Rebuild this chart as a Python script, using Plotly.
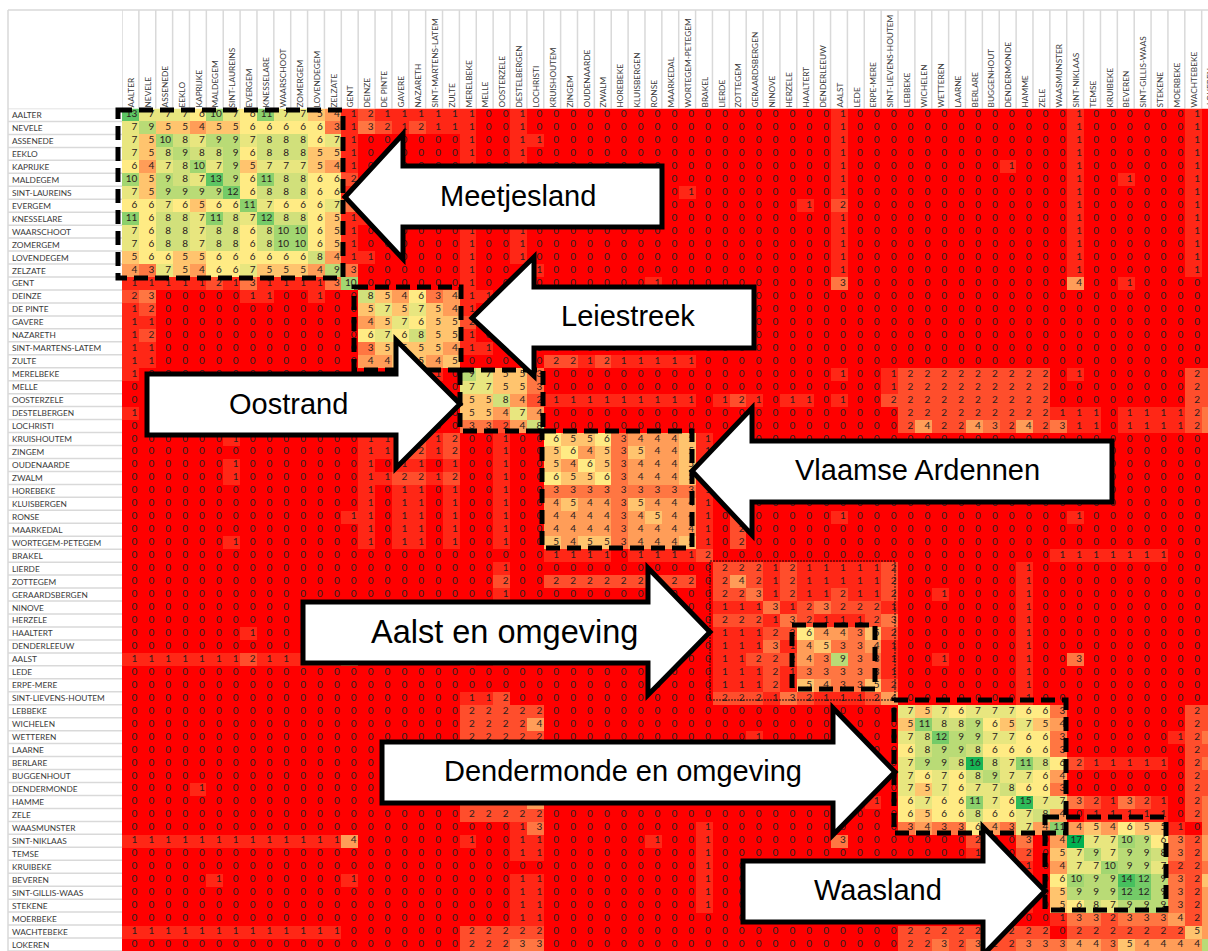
import plotly.graph_objects as go

WIDTH, HEIGHT = 1208, 951

MUNICIPALITIES = [
    "AALTER", "NEVELE", "ASSENEDE", "EEKLO", "KAPRIJKE", "MALDEGEM", "SINT-LAUREINS", "EVERGEM", "KNESSELARE",
    "WAARSCHOOT", "ZOMERGEM", "LOVENDEGEM", "ZELZATE", "GENT", "DEINZE", "DE PINTE", "GAVERE", "NAZARETH",
    "SINT-MARTENS-LATEM", "ZULTE", "MERELBEKE", "MELLE", "OOSTERZELE", "DESTELBERGEN", "LOCHRISTI", "KRUISHOUTEM",
    "ZINGEM", "OUDENAARDE", "ZWALM", "HOREBEKE", "KLUISBERGEN", "RONSE", "MAARKEDAL", "WORTEGEM-PETEGEM", "BRAKEL",
    "LIERDE", "ZOTTEGEM", "GERAARDSBERGEN", "NINOVE", "HERZELE", "HAALTERT", "DENDERLEEUW", "AALST", "LEDE",
    "ERPE-MERE", "SINT-LIEVENS-HOUTEM", "LEBBEKE", "WICHELEN", "WETTEREN", "LAARNE", "BERLARE", "BUGGENHOUT",
    "DENDERMONDE", "HAMME", "ZELE", "WAASMUNSTER", "SINT-NIKLAAS", "TEMSE", "KRUIBEKE", "BEVEREN",
    "SINT-GILLIS-WAAS", "STEKENE", "MOERBEKE", "WACHTEBEKE", "LOKEREN",
]

# one row per municipality: 13 | Gent | 6 | 5 | 9 | Brakel | 11 | 10 | 8 | Lokeren
VALUES = [
 [13,7,7,7,6,10,7,6,11,7,7,5,4, 1, 2,1,1,1,1,1, 1,0,0,1,0, 0,0,0,0,0,0,0,0,0, 0, 0,0,0,0,0,0,0,1,0,0,0, 0,0,0,0,0,0,0,0,0,0, 1,0,0,0,0,0,0,1, 0],
 [7,9,5,5,4,5,5,6,6,6,6,6,3, 1, 3,2,1,2,1,1, 1,0,0,1,0, 0,0,0,0,0,0,0,0,0, 0, 0,0,0,0,0,0,0,1,0,0,0, 0,0,0,0,0,0,0,0,0,0, 1,0,0,0,0,0,0,1, 0],
 [7,5,10,8,7,9,9,7,8,8,8,6,7, 1, 0,0,0,0,0,0, 1,0,0,1,1, 0,0,0,0,0,0,0,0,0, 0, 0,0,0,0,0,0,0,1,0,0,0, 0,0,0,0,0,0,0,0,0,0, 1,0,0,0,0,0,0,1, 0],
 [7,5,8,9,8,8,9,6,8,8,8,5,5, 1, 0,0,0,0,0,0, 1,0,0,1,0, 0,0,0,0,0,0,0,0,0, 0, 0,0,0,0,0,0,0,1,0,0,0, 0,0,0,0,0,0,0,0,0,0, 1,0,0,0,0,0,0,1, 0],
 [6,4,7,8,10,7,9,5,7,7,7,5,4, 1, 0,0,0,0,0,0, 1,0,0,1,0, 0,0,0,0,0,0,0,0,0, 0, 0,0,0,0,0,0,0,1,0,0,0, 0,0,0,0,0,0,1,0,0,0, 1,0,0,0,0,0,0,1, 0],
 [10,5,9,8,7,13,9,6,11,8,8,6,6, 2, 0,0,0,0,0,0, 1,0,0,1,0, 0,0,0,0,0,0,0,0,0, 0, 0,0,0,0,0,0,0,1,0,0,0, 0,0,0,0,0,0,0,0,0,0, 1,0,0,1,0,0,0,1, 0],
 [7,5,9,9,9,9,12,6,8,8,8,6,6, 1, 0,0,0,0,0,0, 1,0,0,1,0, 0,0,0,0,0,0,0,0,1, 0, 0,0,0,0,0,0,0,1,0,0,0, 0,0,0,0,0,0,0,0,0,0, 1,0,0,0,0,0,0,1, 0],
 [6,6,7,6,5,6,6,11,7,6,6,6,7, 3, 1,0,0,0,0,0, 1,0,0,1,0, 0,0,0,0,0,0,0,0,0, 0, 0,0,0,0,0,1,0,2,0,0,0, 0,0,0,0,0,0,0,0,0,0, 1,0,0,0,0,0,0,1, 0],
 [11,6,8,8,7,11,8,7,12,8,8,6,5, 1, 1,0,0,0,0,0, 1,0,0,1,0, 0,0,0,0,0,0,0,0,0, 0, 0,0,0,0,0,0,0,1,0,0,0, 0,0,0,0,0,0,0,0,0,0, 1,0,0,0,0,0,0,1, 0],
 [7,6,8,8,7,8,8,6,8,10,10,6,5, 1, 0,0,0,0,0,0, 1,0,0,1,0, 0,0,0,0,0,0,0,0,0, 0, 0,0,0,0,0,0,0,1,0,0,0, 0,0,0,0,0,0,0,0,0,0, 1,0,0,0,0,0,0,1, 0],
 [7,6,8,8,7,8,8,6,8,10,10,6,5, 1, 0,0,0,0,0,0, 1,0,0,1,0, 0,0,0,0,0,0,0,0,0, 0, 0,0,0,0,0,0,0,1,0,0,0, 0,0,0,0,0,0,0,0,0,0, 1,0,0,0,0,0,0,1, 0],
 [5,6,6,5,5,6,6,6,6,6,6,8,4, 1, 1,0,0,0,0,0, 1,0,0,1,0, 0,0,0,0,0,0,0,0,0, 0, 0,0,0,0,0,0,0,1,0,0,0, 0,0,0,0,0,0,0,0,0,0, 1,0,0,0,0,0,0,1, 0],
 [4,3,7,5,4,6,6,7,5,5,5,4,9, 3, 0,0,0,0,0,0, 1,0,0,0,1, 0,0,0,0,0,0,0,0,0, 0, 0,0,0,0,0,0,0,1,0,0,0, 0,0,0,0,0,0,0,0,0,0, 1,0,0,0,0,0,0,1, 0],
 [1,1,1,1,1,2,1,3,1,1,1,1,3, 10, 0,0,0,0,0,0, 1,0,0,0,0, 0,0,0,0,0,0,1,0,0, 0, 0,0,0,0,0,0,0,3,0,0,0, 0,0,0,0,0,0,0,0,0,0, 4,0,0,1,0,0,0,0, 0],
 [2,3,0,0,0,0,0,1,1,0,0,1,0, 0, 8,5,4,6,3,4, 1,1,0,0,0, 0,0,0,0,0,0,0,0,0, 0, 0,0,0,0,0,0,0,0,0,0,0, 0,0,0,0,0,0,0,0,0,0, 0,0,0,0,0,0,0,0, 0],
 [1,2,0,0,0,0,0,0,0,0,0,0,0, 0, 5,7,5,7,5,4, 1,0,0,0,0, 0,0,0,0,0,0,0,0,0, 0, 0,0,0,0,0,0,0,0,0,0,0, 0,0,0,0,0,0,0,0,0,0, 0,0,0,0,0,0,0,0, 0],
 [1,1,0,0,0,0,0,0,0,0,0,0,0, 0, 4,5,7,6,5,5, 2,0,0,0,0, 0,0,0,0,0,0,0,0,0, 0, 0,0,0,0,0,0,0,0,0,0,0, 0,0,0,0,0,0,0,0,0,0, 0,0,0,0,0,0,0,0, 0],
 [1,2,0,0,0,0,0,0,0,0,0,0,0, 0, 6,7,6,8,5,5, 1,0,0,0,0, 0,0,0,0,0,0,0,0,0, 0, 0,0,0,0,0,0,0,0,0,0,0, 0,0,0,0,0,0,0,0,0,0, 0,0,0,0,0,0,0,0, 0],
 [1,1,0,0,0,0,0,0,0,0,0,0,0, 0, 3,5,5,5,5,4, 1,1,0,0,0, 0,0,0,0,0,0,0,0,0, 0, 0,0,0,0,0,0,0,0,0,0,0, 0,0,0,0,0,0,0,0,0,0, 0,0,0,0,0,0,0,0, 0],
 [1,1,0,0,0,0,0,0,0,0,0,0,0, 0, 4,4,5,5,4,5, 0,0,0,0,0, 2,2,1,2,1,1,1,1,1, 0, 0,0,0,0,0,0,0,0,0,0,0, 0,0,0,0,0,0,0,0,0,0, 0,0,0,0,0,0,0,0, 0],
 [1,0,0,0,0,0,0,0,0,0,0,0,0, 0, 0,0,0,0,1,0, 9,7,5,5,3, 0,0,0,0,0,0,0,0,0, 0, 0,0,0,0,0,0,0,1,0,0,1, 2,2,2,2,2,2,2,2,2,0, 1,0,0,0,0,0,0,2, 2],
 [0,0,0,0,0,0,0,0,0,0,0,0,0, 0, 0,0,0,0,0,0, 7,7,5,5,3, 0,0,0,0,0,0,0,0,0, 0, 0,0,0,0,0,0,0,0,0,0,1, 2,2,2,2,2,2,2,2,2,0, 0,0,0,0,0,0,0,2, 2],
 [0,0,0,0,0,0,0,0,0,0,0,0,0, 0, 0,0,0,0,0,0, 5,5,8,4,2, 1,1,1,1,1,1,1,1,1, 0, 1,2,1,0,1,1,0,1,0,0,2, 2,2,2,2,2,2,2,2,2,0, 0,0,0,0,0,0,0,2, 2],
 [1,0,0,0,0,0,0,0,0,0,0,0,0, 0, 0,0,0,0,0,0, 5,5,4,7,4, 0,0,0,0,0,0,0,0,0, 0, 0,0,0,0,0,0,0,0,0,0,0, 2,2,2,2,2,2,2,2,2,1, 1,1,0,1,1,1,1,2, 3],
 [0,0,0,0,0,0,0,0,0,0,0,0,0, 0, 0,0,0,0,0,0, 3,3,2,4,8, 0,0,0,0,0,0,0,0,0, 0, 0,0,0,0,0,0,0,0,0,0,0, 2,4,2,2,4,3,2,4,2,3, 1,1,0,1,1,1,1,2, 3],
 [0,0,0,0,0,0,1,0,0,0,0,0,0, 0, 1,1,1,2,1,2, 0,0,1,0,0, 6,5,5,6,3,4,4,4,5, 1, 0,2,0,0,0,0,0,0,0,0,0, 0,0,0,0,0,0,0,0,0,0, 0,0,0,0,0,0,0,0, 0],
 [0,0,0,0,0,0,0,0,0,0,0,0,0, 0, 1,1,1,2,1,2, 0,0,1,0,0, 5,6,4,5,3,5,4,4,5, 1, 0,2,0,0,0,0,0,0,0,0,0, 0,0,0,0,0,0,0,0,0,0, 0,0,0,0,0,0,0,0, 0],
 [0,0,0,0,0,0,1,0,0,0,0,0,0, 0, 1,0,1,1,0,1, 0,0,1,0,0, 5,4,6,5,3,4,4,4,5, 1, 0,2,0,0,0,0,0,0,0,0,0, 0,0,0,0,0,0,0,0,0,0, 0,0,0,0,0,0,0,0, 0],
 [0,0,0,0,0,0,1,0,0,0,0,0,0, 0, 1,1,2,2,1,2, 0,0,1,0,0, 6,5,5,6,3,4,4,4,5, 1, 0,2,0,0,0,0,0,0,0,0,0, 0,0,0,0,0,0,0,0,0,0, 0,0,0,0,0,0,0,0, 0],
 [0,0,0,0,0,0,0,0,0,0,0,0,0, 0, 1,0,1,1,0,1, 0,0,1,0,0, 3,3,3,3,3,3,3,3,3, 1, 0,2,0,0,0,0,0,0,0,0,0, 0,0,0,0,0,0,0,0,0,0, 0,0,0,0,0,0,0,0, 0],
 [0,0,0,0,0,0,0,0,0,0,0,0,0, 0, 1,0,1,1,0,1, 0,0,1,0,0, 4,5,4,4,3,5,4,4,4, 1, 0,2,0,0,0,0,0,0,0,0,0, 0,0,0,0,0,0,0,0,0,0, 0,0,0,0,0,0,0,0, 0],
 [0,0,0,0,0,0,0,0,0,0,0,0,0, 1, 1,0,1,1,0,1, 0,0,1,0,0, 4,4,4,4,3,4,5,4,4, 1, 0,2,0,0,0,0,0,1,0,0,0, 0,0,0,0,0,0,0,0,0,0, 1,0,0,0,0,0,0,0, 0],
 [0,0,0,0,0,0,0,0,0,0,0,0,0, 0, 1,0,1,1,0,1, 0,0,1,0,0, 4,4,4,4,3,4,4,4,4, 1, 0,2,0,0,0,0,0,0,0,0,0, 0,0,0,0,0,0,0,0,0,0, 0,0,0,0,0,0,0,0, 0],
 [0,0,0,0,0,0,1,0,0,0,0,0,0, 0, 1,0,1,1,0,1, 0,0,1,0,0, 5,4,5,5,3,4,4,4,5, 1, 0,2,0,0,0,0,0,0,0,0,0, 0,0,0,0,0,0,0,0,0,0, 0,0,0,0,0,0,0,0, 0],
 [0,0,0,0,0,0,0,0,0,0,0,0,0, 0, 0,0,0,0,0,0, 0,0,0,0,0, 1,1,1,1,0,1,1,1,1, 2, 0,0,0,0,0,0,0,0,0,0,0, 0,0,0,0,0,0,0,0,0,1, 1,1,1,1,1,1,0,0, 0],
 [0,0,0,0,0,0,0,0,0,0,0,0,0, 0, 0,0,0,0,0,0, 0,0,1,0,0, 0,0,0,0,0,0,0,0,0, 0, 2,2,2,1,2,1,1,1,1,1,2, 0,0,0,0,0,0,0,1,0,0, 0,0,0,0,0,0,0,0, 0],
 [0,0,0,0,0,0,0,0,0,0,0,0,0, 0, 0,0,0,0,0,0, 0,0,2,0,0, 2,2,2,2,2,2,2,2,2, 0, 2,4,2,1,2,1,1,1,1,1,2, 0,0,0,0,0,0,0,1,0,0, 0,0,0,0,0,0,0,0, 0],
 [0,0,0,0,0,0,0,0,0,0,0,0,0, 0, 0,0,0,0,0,0, 0,0,1,0,0, 0,0,0,0,0,0,0,0,0, 0, 2,2,3,1,2,1,1,2,1,1,2, 0,0,1,0,0,0,0,1,0,0, 0,0,0,0,0,0,0,0, 0],
 [0,0,0,0,0,0,0,0,0,0,0,0,0, 0, 0,0,0,0,0,0, 0,0,0,0,0, 0,0,0,0,0,0,0,0,0, 0, 1,1,1,3,1,2,3,2,2,2,1, 0,0,0,0,0,0,0,1,0,0, 0,0,0,0,0,0,0,0, 0],
 [0,0,0,0,0,0,0,0,0,0,0,0,0, 0, 0,0,0,0,0,0, 0,0,0,0,0, 0,0,0,0,0,0,0,0,0, 0, 2,2,2,1,3,2,1,1,1,2,3, 0,0,0,0,0,0,0,1,0,0, 0,0,0,0,0,0,0,0, 0],
 [0,0,0,0,0,0,0,1,0,0,0,0,0, 0, 0,0,0,0,0,0, 0,0,0,0,0, 0,0,0,0,0,0,0,0,0, 0, 1,1,1,2,2,6,4,4,3,5,2, 0,0,0,0,0,0,0,1,0,0, 0,0,0,0,0,0,0,0, 0],
 [0,0,0,0,0,0,0,0,0,0,0,0,0, 0, 0,0,0,0,0,0, 0,0,0,0,0, 0,0,0,0,0,0,0,0,0, 0, 1,1,1,3,1,4,5,3,3,4,1, 0,0,0,0,0,0,0,1,0,0, 0,0,0,0,0,0,0,0, 0],
 [1,1,1,1,1,1,1,2,1,1,1,1,1, 3, 0,0,0,0,0,0, 1,0,1,0,0, 0,0,0,0,0,0,1,0,0, 0, 1,1,2,2,2,4,3,9,3,3,1, 0,0,1,0,0,0,0,1,0,0, 3,0,0,0,0,0,0,0, 0],
 [0,0,0,0,0,0,0,0,0,0,0,0,0, 0, 0,0,0,0,0,0, 0,0,0,0,0, 0,0,0,0,0,0,0,0,0, 0, 1,1,1,2,1,3,3,3,3,3,1, 0,0,0,0,0,0,0,1,0,0, 0,0,0,0,0,0,0,0, 0],
 [0,0,0,0,0,0,0,0,0,0,0,0,0, 0, 0,0,0,0,0,0, 0,0,0,0,0, 0,0,0,0,0,0,0,0,0, 0, 1,1,1,2,1,5,4,3,3,5,2, 0,0,0,0,0,0,0,1,0,0, 0,0,0,0,0,0,0,0, 0],
 [0,0,0,0,0,0,0,0,0,0,0,0,0, 0, 0,0,0,0,0,0, 1,1,2,0,0, 0,0,0,0,0,0,0,0,0, 0, 2,2,2,1,3,2,1,1,1,2,4, 0,0,0,0,0,0,0,1,0,0, 0,0,0,0,0,0,0,0, 0],
 [0,0,0,0,0,0,0,0,0,0,0,0,0, 0, 0,0,0,0,0,0, 2,2,2,2,2, 0,0,0,0,0,0,0,0,0, 0, 0,0,0,0,0,0,0,0,0,0,0, 7,5,7,6,7,7,7,6,6,3, 0,0,0,0,0,0,0,2, 2],
 [0,0,0,0,0,0,0,0,0,0,0,0,0, 0, 0,0,0,0,0,0, 2,2,2,2,4, 0,0,0,0,0,0,0,0,0, 0, 0,0,0,0,0,0,0,0,0,0,0, 5,11,8,8,9,6,5,7,5,4, 0,0,0,0,0,0,0,2, 2],
 [0,0,0,0,0,0,0,0,0,0,0,0,0, 0, 0,0,0,0,0,0, 2,2,2,2,2, 0,0,0,0,0,0,0,0,0, 0, 0,0,1,0,0,0,0,1,0,0,0, 7,8,12,9,9,7,7,6,6,3, 0,0,0,0,0,0,1,2, 3],
 [0,0,0,0,0,0,0,0,0,0,0,0,0, 0, 0,0,0,0,0,0, 2,2,2,2,2, 0,0,0,0,0,0,0,0,0, 0, 0,0,0,0,0,0,0,0,0,0,0, 6,8,9,9,8,6,6,6,6,3, 0,0,0,0,0,0,0,2, 2],
 [0,0,0,0,0,0,0,0,0,0,0,0,0, 0, 0,0,0,0,0,0, 2,2,2,2,4, 0,0,0,0,0,0,0,0,0, 0, 0,0,0,0,0,0,0,0,0,0,0, 7,9,9,8,16,8,7,11,8,6, 2,1,1,1,1,1,0,2, 3],
 [0,0,0,0,0,0,0,0,0,0,0,0,0, 0, 0,0,0,0,0,0, 2,2,2,2,3, 0,0,0,0,0,0,0,0,0, 0, 0,0,0,0,0,0,0,0,0,0,0, 7,6,7,6,8,9,7,7,6,4, 0,0,0,0,0,0,0,2, 2],
 [0,0,0,0,1,0,0,0,0,0,0,0,0, 0, 0,0,0,0,0,0, 2,2,2,2,2, 0,0,0,0,0,0,0,0,0, 0, 0,0,0,0,0,0,0,0,0,0,0, 7,5,7,6,7,7,8,6,6,3, 0,0,0,0,0,0,0,2, 2],
 [0,0,0,0,0,0,0,0,0,0,0,0,0, 0, 0,0,0,0,0,0, 2,2,2,2,4, 0,0,0,0,0,0,0,0,0, 0, 0,0,0,0,0,0,0,0,0,1,0, 6,7,6,6,11,7,6,15,7,7, 3,2,1,3,2,1,0,2, 3],
 [0,0,0,0,0,0,0,0,0,0,0,0,0, 0, 0,0,0,0,0,0, 2,2,2,2,2, 0,0,0,0,0,0,0,0,0, 0, 0,0,0,0,0,0,0,0,0,0,0, 6,5,6,6,8,6,6,7,8,4, 0,1,1,1,1,1,0,2, 3],
 [0,0,0,0,0,0,0,0,0,0,0,0,0, 0, 0,0,0,0,0,0, 0,0,0,1,3, 0,0,0,0,0,0,0,0,0, 1, 0,0,0,0,0,0,0,0,0,0,0, 3,4,3,3,6,4,3,7,4,11, 4,5,4,6,5,5,1,0, 3],
 [1,1,1,1,1,1,1,1,1,1,1,1,1, 4, 0,0,0,0,0,0, 1,0,0,1,1, 0,0,0,0,0,0,1,0,0, 1, 0,0,0,0,0,0,0,3,0,0,0, 0,0,0,0,2,0,0,3,0,4, 17,7,7,10,9,6,3,2, 4],
 [0,0,0,0,0,0,0,0,0,0,0,0,0, 0, 0,0,0,0,0,0, 0,0,0,1,1, 0,0,0,0,0,0,0,0,0, 1, 0,0,0,0,0,0,0,0,0,0,0, 0,0,0,0,1,0,0,2,0,5, 7,9,7,9,9,8,3,2, 4],
 [0,0,0,0,0,0,0,0,0,0,0,0,0, 0, 0,0,0,0,0,0, 0,0,0,0,0, 0,0,0,0,0,0,0,0,0, 1, 0,0,0,0,0,0,0,0,0,0,0, 0,0,0,0,1,0,0,1,0,4, 7,7,10,9,9,7,2,2, 3],
 [0,0,0,0,0,1,0,0,0,0,0,0,0, 1, 0,0,0,0,0,0, 0,0,0,1,1, 0,0,0,0,0,0,0,0,0, 1, 0,0,0,0,0,0,0,0,0,0,0, 0,0,0,0,1,0,0,3,0,6, 10,9,9,14,12,9,3,2, 5],
 [0,0,0,0,0,0,0,0,0,0,0,0,0, 0, 0,0,0,0,0,0, 0,0,0,1,1, 0,0,0,0,0,0,0,0,0, 1, 0,0,0,0,0,0,0,0,0,0,0, 0,0,0,0,1,0,0,2,0,5, 9,9,9,12,12,9,3,2, 4],
 [0,0,0,0,0,0,0,0,0,0,0,0,0, 0, 0,0,0,0,0,0, 0,0,0,1,1, 0,0,0,0,0,0,0,0,0, 1, 0,0,0,0,0,0,0,0,0,0,0, 0,0,0,0,1,0,0,1,0,5, 6,8,7,9,9,9,3,2, 4],
 [0,0,0,0,0,0,0,0,0,0,0,0,0, 0, 0,0,0,0,0,0, 0,0,0,1,1, 0,0,0,0,0,0,0,0,0, 0, 0,0,0,0,0,0,0,0,0,0,0, 0,0,0,0,0,0,0,0,0,1, 3,3,2,3,3,3,4,2, 4],
 [1,1,1,1,1,1,1,1,1,1,1,1,1, 0, 0,0,0,0,0,0, 2,2,2,2,2, 0,0,0,0,0,0,0,0,0, 0, 0,0,0,0,0,0,0,0,0,0,0, 2,2,2,2,2,2,2,2,2,0, 2,2,2,2,2,2,2,5, 4],
 [0,0,0,0,0,0,0,0,0,0,0,0,0, 0, 0,0,0,0,0,0, 2,2,2,3,3, 0,0,0,0,0,0,0,0,0, 0, 0,0,0,0,0,0,0,0,0,0,0, 2,2,3,2,3,2,2,3,3,3, 4,4,3,5,4,4,4,4, 9],
]
assert len(VALUES) == 65 and all(len(r) == 65 for r in VALUES), [i for i, r in enumerate(VALUES) if len(r) != 65]

REGION_LABELS = ["Meetjesland", "Leiestreek", "Oostrand", "Vlaamse Ardennen", "Aalst en omgeving",
                 "Dendermonde en omgeving", "Waasland"]
REGION_SIZES = [29, 29, 29, 29, 32.5, 29, 29]

# Layout constants, in picture pixels
PLOT_LEFT, PLOT_TOP, TABLE_LEFT, TABLE_TOP = 122, 108.5, 8, 10
COL_W = 16.87
GRID = "#d9d9d9"
TEXT = "#3a3a3a"
FONT = "Lato"
LABEL_SIZE = 8.3


def px(x):
    return x / WIDTH


def py(y):
    return 1 - y / HEIGHT


def arrow_path(pts):
    return "M " + " L ".join(f"{px(x):.5f} {py(y):.5f}" for x, y in pts) + " Z"


n = len(MUNICIPALITIES)
idx = list(range(n))
visible_cols = idx[:-1]  # digits of the last column lie past the picture edge

fig = go.Figure()
fig.add_trace(go.Heatmap(
    x=idx, y=idx, z=VALUES, zmin=0, zmax=17, showscale=False, hoverinfo="skip",
    colorscale=[[0, "#FF0000"], [6 / 17, "#FFEB84"], [1, "#00B050"]],
))
fig.add_trace(go.Scatter(
    x=[c + 0.41 for r in idx for c in visible_cols],
    y=[r for r in idx for c in visible_cols],
    text=[str(VALUES[r][c]) for r in idx for c in visible_cols],
    mode="text", textposition="middle left",
    textfont=dict(family=FONT, size=10, color="#2a2020"),
    hoverinfo="skip", showlegend=False,
))

shapes = []
# table grid outside the coloured cells
for i in range(n + 1):
    shapes.append(dict(type="line", xref="x", yref="paper", x0=i - 0.5, x1=i - 0.5, y0=py(PLOT_TOP), y1=py(TABLE_TOP),
                       line=dict(color=GRID, width=1.5), layer="below"))
    shapes.append(dict(type="line", xref="paper", yref="y", x0=px(TABLE_LEFT), x1=px(PLOT_LEFT), y0=i - 0.5, y1=i - 0.5,
                       line=dict(color=GRID, width=1.5), layer="below"))
shapes.append(dict(type="line", xref="paper", yref="paper", x0=px(TABLE_LEFT), x1=1, y0=py(TABLE_TOP), y1=py(TABLE_TOP),
                   line=dict(color=GRID, width=1.5), layer="below"))
shapes.append(dict(type="line", xref="paper", yref="paper", x0=px(TABLE_LEFT), x1=px(TABLE_LEFT), y0=py(TABLE_TOP), y1=0,
                   line=dict(color=GRID, width=1.5), layer="below"))

# thin dotted outline of Aalst area
shapes.append(dict(type="rect", xref="paper", yref="paper", x0=px(710), x1=px(895), y0=py(561), y1=py(700),
                   line=dict(color="#111111", width=1, dash="2px,1px"), layer="above"))
# heavy dashed cluster outlines
for x0, y0, x1, y1 in [(118, 110, 343, 278), (354, 287, 461, 370), (460, 370, 543, 431), (542, 431, 692, 548),
                       (792, 625, 875, 689), (894, 700, 1066, 833), (1045, 817, 1166, 910)]:
    shapes.append(dict(type="rect", xref="paper", yref="paper", x0=px(x0), x1=px(x1), y0=py(y0), y1=py(y1),
                       line=dict(color="black", width=5, dash="14px,7px"), layer="above"))

ARROWS = [
    [(345, 197), (403, 134), (403, 166), (662, 166), (662, 227), (403, 227), (403, 259)],
    [(472, 318), (534, 257), (534, 287), (754, 287), (754, 348), (534, 348), (534, 376)],
    [(147, 374), (396, 374), (396, 340), (460, 404), (396, 468), (396, 435), (147, 435)],
    [(692, 471), (752, 408), (752, 441), (1112, 441), (1112, 502), (752, 502), (752, 535)],
    [(303, 602), (648, 602), (648, 568), (710, 632), (648, 695), (648, 663), (303, 663)],
    [(382, 742), (833, 742), (833, 708), (895, 772), (833, 835), (833, 803), (382, 803)],
    [(743, 861), (983, 861), (983, 827), (1045, 891), (983, 955), (983, 922), (743, 922)],
]
for pts in ARROWS:
    shapes.append(dict(type="path", xref="paper", yref="paper", path=arrow_path(pts),
                       fillcolor="white", line=dict(color="black", width=5), layer="above"))

annotations = []
for i, name in enumerate(MUNICIPALITIES):
    annotations.append(dict(xref="paper", yref="y", x=px(10), y=i, text=name, showarrow=False, xanchor="left",
                            yanchor="middle", font=dict(family=FONT, size=LABEL_SIZE, color=TEXT)))
# last column header runs off the picture edge, so the axis would drop it
annotations.append(dict(xref="paper", yref="paper", x=px(PLOT_LEFT + 64.5 * COL_W), y=py(PLOT_TOP - 1),
                        text=MUNICIPALITIES[-1], textangle=-90, showarrow=False, xanchor="center", yanchor="bottom",
                        font=dict(family=FONT, size=LABEL_SIZE, color=TEXT)))
LABEL_POS = [(518, 196), (628, 316), (288, 404), (917, 470), (504, 632), (623, 771), (878, 890)]
for label, size, (x, y) in zip(REGION_LABELS, REGION_SIZES, LABEL_POS):
    annotations.append(dict(xref="paper", yref="paper", x=px(x), y=py(y), text=label, showarrow=False,
                            xanchor="center", yanchor="middle",
                            font=dict(family="Liberation Sans", size=size, color="black")))

fig.update_layout(
    width=WIDTH, height=HEIGHT, margin=dict(l=0, r=0, t=0, b=0), showlegend=False,
    paper_bgcolor="white", plot_bgcolor="white", shapes=shapes, annotations=annotations,
    xaxis=dict(domain=[px(PLOT_LEFT), 1], range=[-0.5, -0.5 + (WIDTH - PLOT_LEFT) / COL_W], side="top",
               tickmode="array", tickvals=idx, ticktext=MUNICIPALITIES, tickangle=-90, ticks="", showgrid=False,
               zeroline=False, showline=False, automargin=False, ticklabelshift=1,
               tickfont=dict(family=FONT, size=LABEL_SIZE, color=TEXT)),
    yaxis=dict(domain=[0, py(PLOT_TOP)], range=[n - 0.5, -0.5], showticklabels=False, ticks="", showgrid=False,
               zeroline=False, showline=False, automargin=False),
)
fig.write_html("out.html", config={"displayModeBar": False},
               post_script="document.body.style.margin='0';document.body.style.overflow='hidden';")
